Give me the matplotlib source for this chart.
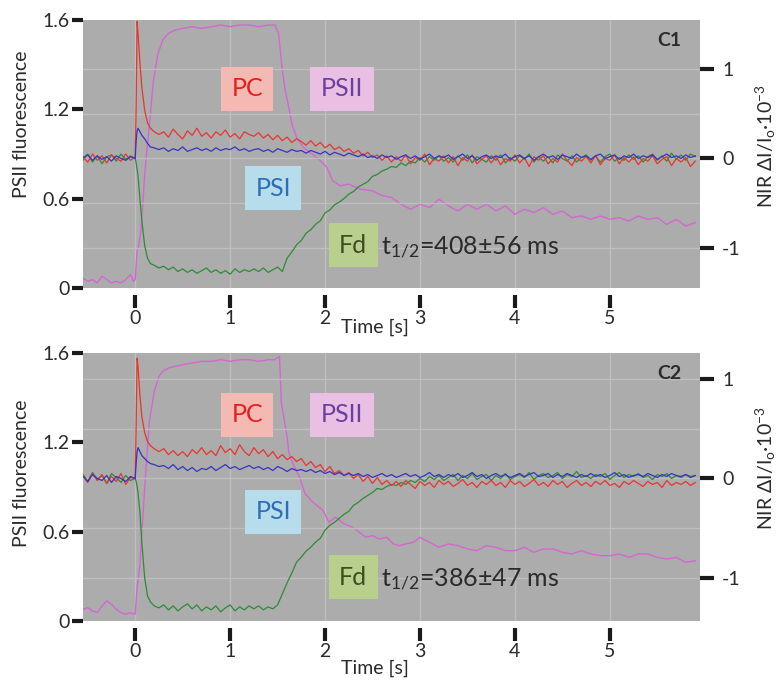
import numpy as np
import matplotlib
matplotlib.use("Agg")
import matplotlib.pyplot as plt

plt.rcParams['font.family'] = ['Lato', 'DejaVu Sans']
plt.rcParams['mathtext.fontset'] = 'custom'
plt.rcParams['mathtext.rm'] = 'Lato'
plt.rcParams['mathtext.it'] = 'Lato:italic'

# sample times of the NIR traces (s)
t_pre = [-0.55, -0.50, -0.45, -0.40, -0.35, -0.30, -0.25, -0.20, -0.15, -0.10, -0.05, 0.00]
t_fast = [0.01, 0.02, 0.03, 0.05, 0.07, 0.10, 0.13, 0.16, 0.20, 0.25]
t_slow = np.round(np.arange(0.30, 5.901, 0.05), 2)
t_nir = np.concatenate([t_pre, t_fast, t_slow])

# ---- C1 (top) ----
pc_c1 = [
    0.02, -0.04, 0.05, -0.02, 0.03, -0.05, 0.04, 0.00, -0.03, 0.05, -0.02, 0.02,
    0.60, 1.54, 1.40, 1.07, 0.80, 0.54, 0.40, 0.34, 0.30, 0.27,
    0.30, 0.24, 0.33, 0.27, 0.22, 0.31, 0.26, 0.34, 0.25, 0.29,
    0.23, 0.30, 0.26, 0.32, 0.24, 0.28, 0.22, 0.30, 0.27, 0.25,
    0.29, 0.23, 0.27, 0.21, 0.26, 0.20, 0.24, 0.18, 0.22, 0.19,
    0.15, 0.20, 0.14, 0.18, 0.12, 0.16, 0.10, 0.13, 0.08, 0.11,
    0.06, 0.09, 0.03, 0.07, 0.01, 0.04, -0.02, 0.03, -0.04, 0.02,
    -0.03, 0.04, -0.06, 0.01, -0.02, 0.05, -0.07, 0.00, -0.03, 0.03,
    -0.05, 0.02, -0.08, 0.01, -0.03, 0.04, -0.06, -0.01, 0.03, -0.05,
    0.02, -0.07, 0.00, -0.03, 0.04, -0.05, 0.01, -0.09, 0.02, -0.02,
    0.03, -0.06, 0.00, -0.04, 0.05, -0.02, -0.08, 0.01, -0.03, 0.02,
    -0.05, 0.03, -0.07, 0.00, -0.02, 0.04, -0.06, 0.01, -0.04, 0.02,
    -0.07, 0.00, -0.03, 0.03, -0.06, -0.01, 0.02, -0.08, 0.00, -0.04,
    0.01, -0.09, -0.03]
psi_c1 = [
    0.01, 0.04, -0.02, 0.03, -0.01, 0.02, -0.03, 0.03, 0.00, -0.02, 0.02, 0.00,
    0.20, 0.31, 0.34, 0.30, 0.26, 0.22, 0.17, 0.13, 0.12, 0.10,
    0.12, 0.08, 0.11, 0.09, 0.13, 0.08, 0.10, 0.12, 0.09, 0.11,
    0.08, 0.12, 0.09, 0.11, 0.10, 0.13, 0.09, 0.11, 0.08, 0.10,
    0.11, 0.08, 0.10, 0.07, 0.11, 0.09, 0.07, 0.10, 0.08, 0.09,
    0.06, 0.09, 0.07, 0.05, 0.08, 0.04, 0.07, 0.05, 0.03, 0.06,
    0.04, 0.02, 0.05, 0.01, 0.03, 0.00, 0.04, 0.01, 0.03, -0.01,
    0.02, 0.04, 0.00, 0.03, -0.01, 0.02, 0.05, 0.00, 0.03, 0.01,
    0.04, -0.01, 0.02, 0.05, 0.00, 0.03, -0.02, 0.02, 0.04, 0.00,
    0.03, 0.01, 0.05, -0.01, 0.02, 0.04, 0.00, 0.03, -0.02, 0.02,
    0.05, 0.01, 0.03, -0.01, 0.04, 0.02, 0.00, 0.05, 0.01, 0.03,
    -0.01, 0.03, 0.05, 0.00, 0.02, 0.04, -0.01, 0.03, 0.01, 0.05,
    0.00, 0.03, 0.01, 0.04, -0.01, 0.02, 0.05, 0.01, 0.03, 0.00,
    0.04, 0.01, 0.03]
fd_c1 = [
    -0.02, 0.05, -0.04, 0.03, -0.06, 0.02, 0.04, -0.03, 0.05, -0.01, 0.03, 0.00,
    -0.05, -0.12, -0.20, -0.45, -0.70, -0.98, -1.12, -1.18, -1.20, -1.23,
    -1.21, -1.25, -1.22, -1.27, -1.24, -1.28, -1.25, -1.29, -1.26, -1.23,
    -1.28, -1.25, -1.29, -1.26, -1.30, -1.24, -1.28, -1.25, -1.27, -1.24,
    -1.27, -1.23, -1.28, -1.25, -1.22, -1.27, -1.12, -1.05, -0.97, -0.92,
    -0.84, -0.80, -0.74, -0.70, -0.61, -0.58, -0.52, -0.49, -0.45, -0.40,
    -0.37, -0.32, -0.29, -0.26, -0.20, -0.18, -0.14, -0.12, -0.09, -0.10,
    -0.05, -0.08, -0.03, -0.05, 0.01, -0.04, 0.02, -0.02, 0.03, -0.03,
    0.01, -0.04, 0.03, -0.02, 0.04, -0.05, 0.02, -0.01, -0.04, 0.03,
    -0.02, 0.04, -0.05, 0.01, -0.03, 0.03, -0.01, 0.05, -0.04, 0.02,
    -0.03, 0.02, -0.05, 0.04, 0.00, -0.03, 0.03, -0.04, 0.01, 0.04,
    -0.02, 0.03, -0.04, 0.02, 0.05, -0.03, 0.01, -0.02, 0.04, -0.01,
    0.03, -0.04, 0.02, 0.05, -0.02, 0.03, -0.03, 0.06, -0.01, 0.04,
    -0.02, 0.05, 0.02]
t_ps2_c1 = [-0.55, -0.50, -0.45, -0.40, -0.35, -0.30, -0.25, -0.20, -0.15, -0.10, -0.05, -0.02, 0.00,
            0.02, 0.04, 0.06, 0.08, 0.10, 0.13, 0.16, 0.19, 0.24, 0.29, 0.35, 0.42,
            0.5, 0.6, 0.7, 0.8, 0.9, 1.0, 1.1, 1.2, 1.3, 1.4,
            1.47, 1.51, 1.55, 1.58, 1.61, 1.65, 1.70, 1.77, 1.84, 1.91, 1.97,
            2.02, 2.08, 2.16, 2.25, 2.37, 2.5, 2.61, 2.7, 2.8, 2.9,
            3.0, 3.1, 3.2, 3.3, 3.4, 3.5, 3.6, 3.7, 3.8, 3.9,
            4.0, 4.1, 4.2, 4.3, 4.4, 4.5, 4.6, 4.7, 4.8, 4.9,
            5.0, 5.1, 5.2, 5.3, 5.4, 5.5, 5.6, 5.7, 5.8, 5.9]
ps2_c1 = [0.06, 0.04, 0.05, 0.03, 0.07, 0.05, 0.03, 0.04, 0.03, 0.05, 0.08, 0.04, 0.05,
          0.22, 0.26, 0.34, 0.50, 0.68, 0.86, 1.04, 1.23, 1.40, 1.48, 1.52, 1.54,
          1.55, 1.56, 1.55, 1.56, 1.57, 1.56, 1.57, 1.57, 1.56, 1.57,
          1.57, 1.52, 1.30, 1.18, 1.10, 0.98, 0.90, 0.84, 0.81, 0.78, 0.75,
          0.72, 0.64, 0.61, 0.62, 0.59, 0.58, 0.55, 0.54, 0.50, 0.47,
          0.50, 0.48, 0.53, 0.49, 0.46, 0.50, 0.47, 0.50, 0.46, 0.49,
          0.44, 0.47, 0.45, 0.48, 0.44, 0.46, 0.42, 0.43, 0.41, 0.43,
          0.41, 0.42, 0.40, 0.43, 0.41, 0.42, 0.38, 0.41, 0.37, 0.39]

# ---- C2 (bottom) ----
pc_c2 = [
    0.03, -0.04, 0.05, -0.02, 0.04, -0.05, 0.02, -0.03, 0.05, -0.06, 0.01, 0.00,
    0.55, 1.21, 1.12, 0.83, 0.62, 0.46, 0.37, 0.33, 0.30, 0.27,
    0.30, 0.24, 0.28, 0.23, 0.27, 0.22, 0.29, 0.25, 0.31, 0.24,
    0.28, 0.23, 0.33, 0.26, 0.30, 0.24, 0.34, 0.27, 0.23, 0.31,
    0.25, 0.29, 0.22, 0.27, 0.20, 0.24, 0.19, 0.22, 0.17, 0.20,
    0.13, 0.17, 0.11, 0.14, 0.07, 0.12, 0.05, 0.08, 0.03, 0.06,
    0.00, 0.04, -0.03, 0.02, -0.05, 0.01, -0.06, -0.02, -0.07, -0.03,
    -0.08, -0.02, -0.06, -0.10, -0.03, -0.07, -0.04, -0.09, -0.02, -0.06,
    -0.03, -0.08, -0.05, -0.01, -0.07, -0.04, -0.09, -0.03, -0.06, -0.02,
    -0.07, -0.04, -0.09, -0.02, -0.06, -0.03, -0.08, -0.05, -0.01, -0.07,
    -0.04, -0.08, -0.02, -0.06, -0.03, -0.09, -0.05, -0.02, -0.07, -0.04,
    -0.08, -0.03, -0.06, -0.02, -0.07, -0.05, -0.09, -0.03, -0.06, -0.02,
    -0.05, -0.08, -0.03, -0.06, -0.04, -0.09, -0.02, -0.07, -0.04, -0.06,
    -0.03, -0.07, -0.04]
psi_c2 = [
    0.02, -0.03, 0.04, 0.00, -0.02, 0.03, -0.04, 0.02, 0.00, -0.03, 0.02, 0.00,
    0.15, 0.27, 0.31, 0.27, 0.23, 0.20, 0.17, 0.15, 0.14, 0.12,
    0.13, 0.10, 0.14, 0.09, 0.12, 0.08, 0.11, 0.07, 0.10, 0.09,
    0.12, 0.08, 0.11, 0.14, 0.10, 0.12, 0.09, 0.11, 0.13, 0.10,
    0.12, 0.09, 0.11, 0.08, 0.12, 0.10, 0.07, 0.10, 0.08, 0.09,
    0.07, 0.09, 0.06, 0.08, 0.05, 0.07, 0.04, 0.06, 0.03, 0.05,
    0.03, 0.05, 0.02, 0.04, 0.01, 0.03, 0.05, 0.02, 0.04, 0.01,
    0.03, 0.05, 0.02, 0.04, 0.01, 0.03, 0.06, 0.02, 0.04, 0.01,
    0.04, 0.02, 0.05, 0.01, 0.03, 0.06, 0.02, 0.04, 0.00, 0.03,
    0.05, 0.02, 0.04, 0.01, 0.03, 0.05, 0.02, 0.04, 0.06, 0.02,
    0.03, 0.05, 0.01, 0.04, 0.02, 0.05, 0.03, 0.01, 0.04, 0.02,
    0.05, 0.02, 0.04, 0.01, 0.03, 0.06, 0.02, 0.04, 0.01, 0.03,
    0.04, 0.02, 0.05, 0.03, 0.01, 0.04, 0.02, 0.05, 0.03, 0.02,
    0.04, 0.01, 0.03]
fd_c2 = [
    0.04, -0.03, 0.06, -0.01, 0.03, -0.05, 0.05, 0.01, -0.04, 0.03, -0.02, 0.00,
    -0.03, -0.08, -0.15, -0.34, -0.65, -1.00, -1.18, -1.24, -1.28, -1.30,
    -1.27, -1.32, -1.28, -1.33, -1.29, -1.26, -1.31, -1.27, -1.33, -1.29,
    -1.32, -1.28, -1.34, -1.30, -1.27, -1.33, -1.29, -1.32, -1.28, -1.31,
    -1.28, -1.32, -1.29, -1.31, -1.27, -1.16, -1.05, -0.95, -0.84, -0.79,
    -0.73, -0.69, -0.64, -0.60, -0.52, -0.47, -0.44, -0.40, -0.36, -0.33,
    -0.27, -0.24, -0.20, -0.17, -0.14, -0.10, -0.11, -0.08, -0.06, -0.07,
    -0.04, -0.06, -0.02, -0.04, 0.00, -0.03, 0.02, -0.01, 0.03, -0.02,
    0.01, 0.04, -0.02, 0.03, 0.00, 0.05, -0.01, 0.02, 0.04, -0.02,
    0.03, 0.00, 0.05, -0.01, 0.02, 0.04, 0.01, 0.06, -0.01, 0.03,
    0.05, 0.01, 0.03, 0.06, 0.00, 0.04, 0.02, 0.07, 0.01, 0.03,
    0.00, 0.04, 0.02, 0.05, -0.01, 0.03, 0.06, 0.01, 0.04, 0.02,
    0.05, 0.01, 0.03, -0.01, 0.04, 0.02, 0.05, 0.00, 0.03, 0.01,
    0.04, 0.02, 0.03]
t_ps2_c2 = [-0.55, -0.50, -0.45, -0.40, -0.35, -0.30, -0.25, -0.20, -0.15, -0.10, -0.05, 0.00,
            0.02, 0.05, 0.08, 0.12, 0.15, 0.20, 0.25, 0.29, 0.35, 0.42,
            0.5, 0.6, 0.7, 0.8, 0.9, 1.0, 1.1, 1.2, 1.3, 1.4,
            1.47, 1.52, 1.54, 1.57, 1.60, 1.62, 1.67, 1.73, 1.79, 1.87, 1.98,
            2.04, 2.11, 2.2, 2.29, 2.36, 2.43, 2.5, 2.57, 2.65, 2.72, 2.78, 2.85, 2.93,
            3.0, 3.1, 3.2, 3.3, 3.4, 3.5, 3.6, 3.7, 3.8, 3.9,
            4.0, 4.1, 4.2, 4.3, 4.4, 4.5, 4.6, 4.7, 4.8, 4.9,
            5.0, 5.1, 5.2, 5.3, 5.4, 5.5, 5.6, 5.7, 5.8, 5.9]
ps2_c2 = [0.07, 0.08, 0.06, 0.05, 0.09, 0.12, 0.10, 0.07, 0.05, 0.04, 0.05, 0.04,
          0.20, 0.33, 0.62, 0.97, 1.19, 1.37, 1.46, 1.49, 1.51, 1.52,
          1.53, 1.54, 1.55, 1.55, 1.56, 1.55, 1.56, 1.56, 1.55, 1.56,
          1.56, 1.58, 1.30, 1.20, 1.10, 1.00, 0.93, 0.86, 0.76, 0.71, 0.66,
          0.59, 0.62, 0.58, 0.56, 0.53, 0.50, 0.51, 0.49, 0.50, 0.46, 0.45, 0.46, 0.47,
          0.50, 0.47, 0.44, 0.46, 0.45, 0.43, 0.42, 0.45, 0.44, 0.42,
          0.42, 0.44, 0.41, 0.43, 0.43, 0.41, 0.40, 0.42, 0.40, 0.39,
          0.39, 0.40, 0.38, 0.40, 0.40, 0.38, 0.37, 0.38, 0.35, 0.36]

# left axis: evenly spaced ticks carrying these labels
left_ticks = [0, 1.6 / 3, 3.2 / 3, 1.6]
left_labels = ['0', '0.6', '1.2', '1.6']
right_ticks = [-1, 0, 1]
right_labels = ['-1', '0', '1']
x_ticks = [0, 1, 2, 3, 4, 5]

panels = [
    dict(pc=pc_c1, psi=psi_c1, fd=fd_c1, t2=t_ps2_c1, ps2=ps2_c1, ylim2=(-1.455, 1.556),
         name='C1', thalf='=408±56 ms', pos=[83 / 784, 1 - 288 / 685, 617 / 784, 268 / 685],
         lab_y=0.61, rlab_y=0.53, tlab_y=-0.115,
         ty=dict(pc=0.743, psi=0.373, fd=0.160, ps2=0.743, th=0.125)),
    dict(pc=pc_c2, psi=psi_c2, fd=fd_c2, t2=t_ps2_c2, ps2=ps2_c2, ylim2=(-1.432, 1.261),
         name='C2', thalf='=386±47 ms', pos=[83 / 784, 1 - 621 / 685, 617 / 784, 268 / 685],
         lab_y=0.55, rlab_y=0.57, tlab_y=-0.146,
         ty=dict(pc=0.769, psi=0.407, fd=0.164, ps2=0.769, th=0.127)),
]

bg = '#acacac'
grid_c = '#bebebe'
tick_c = '#1a1a1a'
txt_c = '#2a2a2a'

fig = plt.figure(figsize=(7.84, 6.85), dpi=100)

for p in panels:
    ax = fig.add_axes(p['pos'])
    ax.set_facecolor(bg)
    ax2 = ax.twinx()
    ax2.patch.set_visible(False)

    ax.plot(p['t2'], p['ps2'], color='#d267d2', lw=1.0, zorder=3)
    ax2.plot(t_nir, p['fd'], color='#2e8b35', lw=0.9, zorder=3)
    ax2.plot(t_nir, p['pc'], color='#e8352e', lw=0.9, zorder=4)
    ax2.plot(t_nir, p['psi'], color='#3535c0', lw=0.9, zorder=5)

    ax.set_xlim(-0.55, 5.95)
    ax.set_ylim(0, 1.6)
    ax2.set_ylim(*p['ylim2'])

    ax.set_xticks(x_ticks)
    ax.set_xticklabels([str(v) for v in x_ticks])
    ax.set_yticks(left_ticks)
    ax.set_yticklabels(left_labels)
    ax2.set_yticks(right_ticks)
    ax2.set_yticklabels(right_labels)
    ax2.set_yticks([-0.5, 0.5], minor=True)

    for a in (ax, ax2):
        for s in a.spines.values():
            s.set_visible(False)
    ax.spines['bottom'].set_position(('outward', 5))

    ax.grid(axis='x', color=grid_c, lw=1)
    ax2.grid(axis='y', which='both', color=grid_c, lw=1)
    ax.set_axisbelow(True)

    ax.tick_params(axis='x', length=9, width=3, color=tick_c, pad=2, labelsize=14, labelcolor=txt_c)
    ax.tick_params(axis='y', length=8, width=3, color=tick_c, pad=1.5, labelsize=14, labelcolor=txt_c)
    ax2.tick_params(axis='y', which='major', length=10, width=3, color=tick_c, pad=6,
                    labelsize=14, labelcolor=txt_c)
    ax2.tick_params(axis='y', which='minor', length=0)

    ax.set_ylabel('PSII fluorescence', fontsize=14, color=txt_c, va='center')
    ax.yaxis.set_label_coords(-0.099, p['lab_y'])
    ax.set_xlabel('Time [s]', fontsize=14, color=txt_c)
    ax.xaxis.set_label_coords(0.473, p['tlab_y'])
    ax2.set_ylabel(r'NIR ΔI/I$_{\mathregular{o}}$·10$^{\mathregular{-3}}$', fontsize=14,
                   color=txt_c, va='center')
    ax2.yaxis.set_label_coords(1.107, p['rlab_y'])

    ty = p['ty']
    box = dict(boxstyle='square,pad=0.42', ec='none')
    ax2.text(0.266, ty['pc'], 'PC', transform=ax2.transAxes, fontsize=18, color='#e41e1e',
             ha='center', va='center', bbox=dict(box, fc='#f5b9b3'), zorder=10)
    ax2.text(0.420, ty['ps2'], 'PSII', transform=ax2.transAxes, fontsize=18, color='#6b3fa0',
             ha='center', va='center', bbox=dict(box, fc='#e9bfe3'), zorder=10)
    ax2.text(0.308, ty['psi'], 'PSI', transform=ax2.transAxes, fontsize=18, color='#2c6fb5',
             ha='center', va='center', bbox=dict(box, fc='#b7dcec'), zorder=10)
    ax2.text(0.438, ty['fd'], 'Fd', transform=ax2.transAxes, fontsize=18, color='#3d4d1e',
             ha='center', va='center', bbox=dict(box, fc='#b9cf8e'), zorder=10)
    ax2.text(0.483, ty['th'], r't$_{\mathregular{1/2}}$' + p['thalf'], transform=ax2.transAxes,
             fontsize=18, color=txt_c, ha='left', va='baseline', zorder=10)
    ax2.text(0.950, 0.925, p['name'], transform=ax2.transAxes, fontsize=14, fontweight='bold',
             color=txt_c, ha='center', va='center', zorder=10)

fig.savefig('out.png', dpi=100)
